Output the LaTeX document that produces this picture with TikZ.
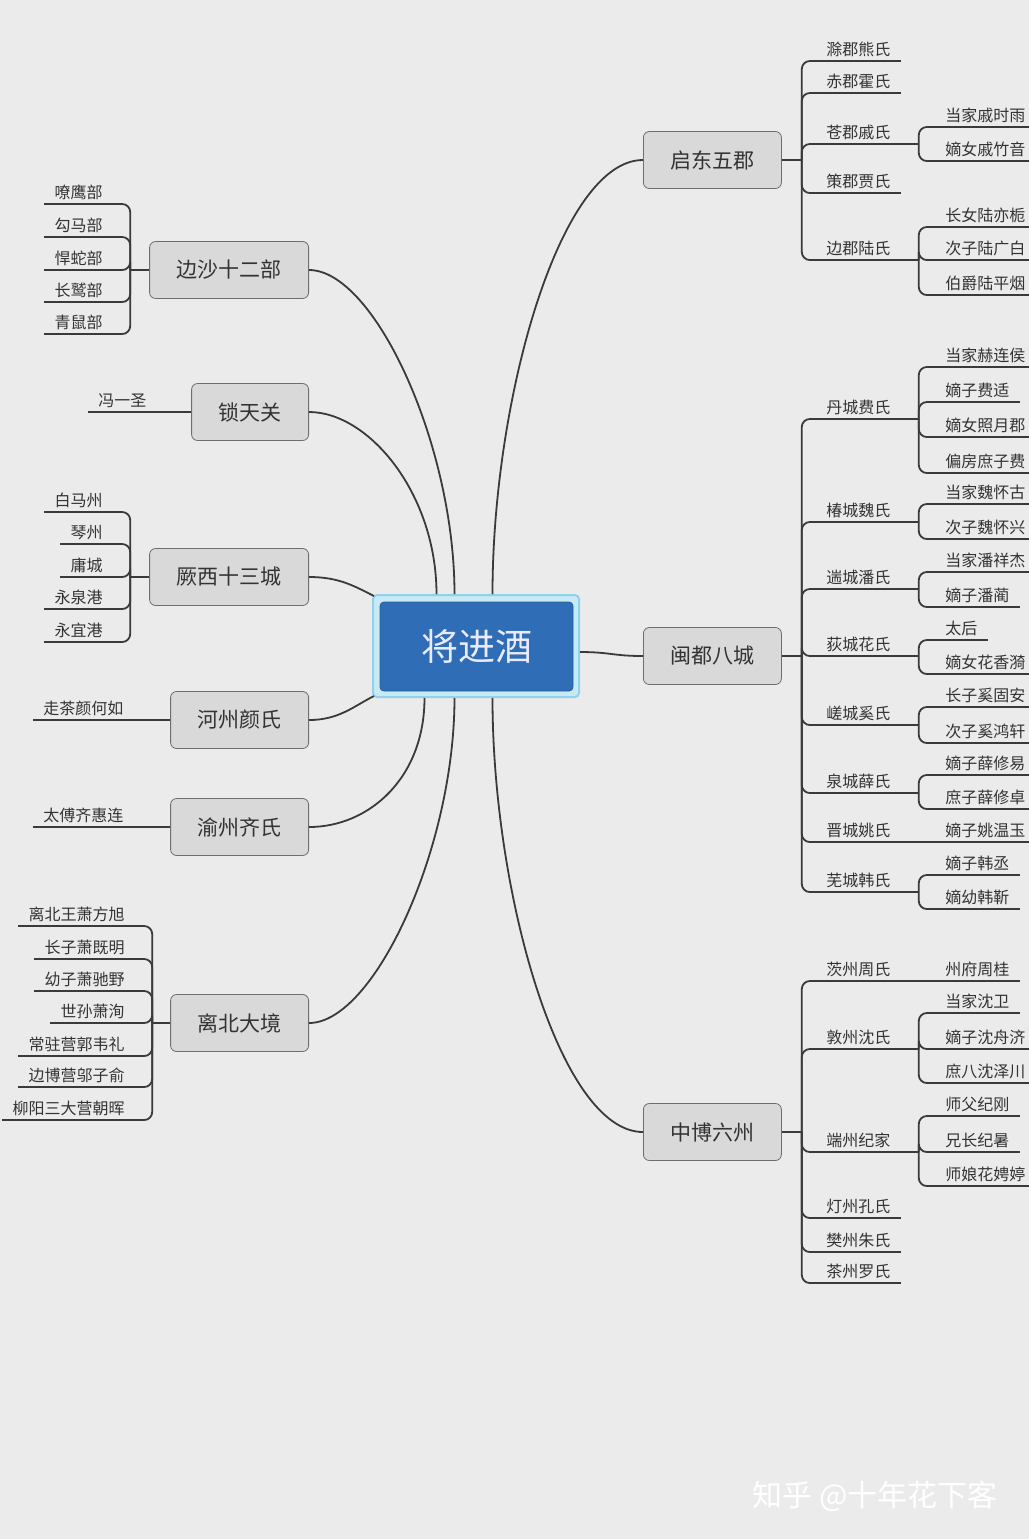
\documentclass[tikz,border=0pt]{standalone}
\usepackage{fontspec}
\setmainfont{Noto Sans CJK SC}
\usetikzlibrary{positioning}
\definecolor{bggray}{HTML}{EBEBEB}
\definecolor{linegray}{HTML}{3A3A3A}
\definecolor{txtgray}{HTML}{333333}
\definecolor{topicfill}{HTML}{D9D9D9}
\definecolor{topicdraw}{HTML}{6E6E6E}
\definecolor{rootblue}{HTML}{2F6EB6}
\definecolor{rootframe}{HTML}{8FD2EA}
\definecolor{rootgap}{HTML}{C8EAF5}

\begin{document}
\begin{tikzpicture}[x=0.5pt, y=-0.5pt,
        root/.style={rectangle, rounded corners=2pt, fill=rootblue, draw=rootblue!85!black, minimum width=96.5pt, minimum height=44.5pt, text=white!92!blue, font=\fontsize{18.5}{20}\selectfont},
        rootframe/.style={rectangle, rounded corners=2pt, fill=rootgap, draw=rootframe, line width=1pt, minimum width=103pt, minimum height=51pt},
        topic/.style={rectangle, rounded corners=3pt, draw=topicdraw, fill=topicfill, minimum height=28.5pt, inner xsep=13.5pt, text=txtgray, font=\fontsize{10.5}{12}\selectfont},
        leaf/.style={inner xsep=5pt, inner ysep=2pt, text=txtgray, font=\fontsize{8}{9}\selectfont},
        branch/.style={draw=linegray, line width=0.9pt},
        bracket/.style={branch, rounded corners=4pt}
    ]
        \useasboundingbox (0,0) rectangle (1029,1539);
        \fill[bggray] (0,0) rectangle (1029,1539);

        \node[rootframe] (jjjf) at (476,646) {};
        \node[root] (jjj) at (476.5,646.5) {将进酒};

        \node[topic, anchor=west] (qd) at (643,160) {启东五郡};
        \node[topic, anchor=west] (md) at (643,656) {闽都八城};
        \node[topic, anchor=west] (zb) at (643,1132) {中博六州};
        \node[topic, anchor=east] (bs) at (309,270) {边沙十二部};
        \node[topic, anchor=east] (st) at (309,412) {锁天关};
        \node[topic, anchor=east] (jx) at (309,577) {厥西十三城};
        \node[topic, anchor=east] (hz) at (309,720) {河州颜氏};
        \node[topic, anchor=east] (yz) at (309,827) {渝州齐氏};
        \node[topic, anchor=east] (lb) at (309,1023) {离北大境};

        \draw[branch] ([xshift=8.25pt]jjjf.north) .. controls +(0,-195) and +(-83,0) .. (qd.west);
        \draw[branch] ([yshift=-3pt]jjjf.east) .. controls +(30,0) and +(-30,0) .. (md.west);
        \draw[branch] ([xshift=8.25pt]jjjf.south) .. controls +(0,195) and +(-83,0) .. (zb.west);
        \draw[branch] ([xshift=-10.75pt]jjjf.north) .. controls +(0,-150) and +(65,0) .. (bs.east);
        \draw[branch] ([xshift=-19.75pt]jjjf.north) .. controls +(0,-100) and +(60,0) .. (st.east);
        \draw[branch] ([shift={(1pt,-1pt)}]jjjf.north west) .. controls +(-20,-10) and +(30,0) .. (jx.east);
        \draw[branch] ([shift={(1pt,1pt)}]jjjf.south west) .. controls +(-20,10) and +(30,0) .. (hz.east);
        \draw[branch] ([xshift=-25.75pt]jjjf.south) .. controls +(0,80) and +(60,0) .. (yz.east);
        \draw[branch] ([xshift=-10.75pt]jjjf.south) .. controls +(0,150) and +(65,0) .. (lb.east);

        % 启东五郡
        \coordinate[right=10pt of qd] (qdJ);
        \draw[branch] (qd.east) -- (qdJ);
        \node[leaf, anchor=south west] (qd1) at (816,61) {滁郡熊氏};
        \node[leaf, anchor=south west] (qd2) at (816,93) {赤郡霍氏};
        \node[leaf, anchor=south west] (qd3) at (816,144) {苍郡戚氏};
        \node[leaf, anchor=south west] (qd4) at (816,193) {策郡贾氏};
        \node[leaf, anchor=south west] (qd5) at (816,260) {边郡陆氏};
        \draw[bracket] (qdJ) |- (qd1.south east);
        \draw[bracket] (qdJ) |- (qd2.south east);
        \draw[bracket] (qdJ) |- (qd3.south east);
        \draw[bracket] (qdJ) |- (qd4.south east);
        \draw[bracket] (qdJ) |- (qd5.south east);

        \coordinate[right=9pt of qd3.south east] (qd3J);
        \draw[branch] (qd3.south east) -- (qd3J);
        \node[leaf, anchor=south west] (qd3a) at (935,127) {当家戚时雨};
        \node[leaf, anchor=south west] (qd3b) at (935,161) {嫡女戚竹音};
        \draw[bracket] (qd3J) |- (qd3a.south east);
        \draw[bracket] (qd3J) |- (qd3b.south east);

        \coordinate[right=9pt of qd5.south east] (qd5J);
        \draw[branch] (qd5.south east) -- (qd5J);
        \node[leaf, anchor=south west] (qd5a) at (935,227) {长女陆亦栀};
        \node[leaf, anchor=south west] (qd5b) at (935,260) {次子陆广白};
        \node[leaf, anchor=south west] (qd5c) at (935,295) {伯爵陆平烟};
        \draw[bracket] (qd5J) |- (qd5a.south east);
        \draw[bracket] (qd5J) |- (qd5b.south east);
        \draw[bracket] (qd5J) |- (qd5c.south east);

        % 闽都八城
        \coordinate[right=10pt of md] (mdJ);
        \draw[branch] (md.east) -- (mdJ);
        \node[leaf, anchor=south west] (md1) at (816,419) {丹城费氏};
        \node[leaf, anchor=south west] (md2) at (816,522) {椿城魏氏};
        \node[leaf, anchor=south west] (md3) at (816,589) {遄城潘氏};
        \node[leaf, anchor=south west] (md4) at (816,656) {荻城花氏};
        \node[leaf, anchor=south west] (md5) at (816,725) {嵯城奚氏};
        \node[leaf, anchor=south west] (md6) at (816,793) {泉城薛氏};
        \node[leaf, anchor=south west] (md7) at (816,842) {晋城姚氏};
        \node[leaf, anchor=south west] (md8) at (816,892) {芜城韩氏};
        \draw[bracket] (mdJ) |- (md1.south east);
        \draw[bracket] (mdJ) |- (md2.south east);
        \draw[bracket] (mdJ) |- (md3.south east);
        \draw[bracket] (mdJ) |- (md4.south east);
        \draw[bracket] (mdJ) |- (md5.south east);
        \draw[bracket] (mdJ) |- (md6.south east);
        \draw[bracket] (mdJ) |- (md7.south east);
        \draw[bracket] (mdJ) |- (md8.south east);

        \coordinate[right=9pt of md1.south east] (md1J);
        \draw[branch] (md1.south east) -- (md1J);
        \node[leaf, anchor=south west] (md1a) at (935,367) {当家赫连侯};
        \node[leaf, anchor=south west] (md1b) at (935,402) {嫡子费适};
        \node[leaf, anchor=south west] (md1c) at (935,437) {嫡女照月郡};
        \node[leaf, anchor=south west] (md1d) at (935,473) {偏房庶子费};
        \draw[bracket] (md1J) |- (md1a.south east);
        \draw[bracket] (md1J) |- (md1b.south east);
        \draw[bracket] (md1J) |- (md1c.south east);
        \draw[bracket] (md1J) |- (md1d.south east);

        \coordinate[right=9pt of md2.south east] (md2J);
        \draw[branch] (md2.south east) -- (md2J);
        \node[leaf, anchor=south west] (md2a) at (935,504) {当家魏怀古};
        \node[leaf, anchor=south west] (md2b) at (935,539) {次子魏怀兴};
        \draw[bracket] (md2J) |- (md2a.south east);
        \draw[bracket] (md2J) |- (md2b.south east);

        \coordinate[right=9pt of md3.south east] (md3J);
        \draw[branch] (md3.south east) -- (md3J);
        \node[leaf, anchor=south west] (md3a) at (935,572) {当家潘祥杰};
        \node[leaf, anchor=south west] (md3b) at (935,607) {嫡子潘蔺};
        \draw[bracket] (md3J) |- (md3a.south east);
        \draw[bracket] (md3J) |- (md3b.south east);

        \coordinate[right=9pt of md4.south east] (md4J);
        \draw[branch] (md4.south east) -- (md4J);
        \node[leaf, anchor=south west] (md4a) at (935,640) {太后};
        \node[leaf, anchor=south west] (md4b) at (935,674) {嫡女花香漪};
        \draw[bracket] (md4J) |- (md4a.south east);
        \draw[bracket] (md4J) |- (md4b.south east);

        \coordinate[right=9pt of md5.south east] (md5J);
        \draw[branch] (md5.south east) -- (md5J);
        \node[leaf, anchor=south west] (md5a) at (935,707) {长子奚固安};
        \node[leaf, anchor=south west] (md5b) at (935,743) {次子奚鸿轩};
        \draw[bracket] (md5J) |- (md5a.south east);
        \draw[bracket] (md5J) |- (md5b.south east);

        \coordinate[right=9pt of md6.south east] (md6J);
        \draw[branch] (md6.south east) -- (md6J);
        \node[leaf, anchor=south west] (md6a) at (935,775) {嫡子薛修易};
        \node[leaf, anchor=south west] (md6b) at (935,809) {庶子薛修卓};
        \draw[bracket] (md6J) |- (md6a.south east);
        \draw[bracket] (md6J) |- (md6b.south east);

        \node[leaf, anchor=south west] (md7a) at (935,842) {嫡子姚温玉};
        \draw[branch] (md7.south east) -- (md7a.south east);

        \coordinate[right=9pt of md8.south east] (md8J);
        \draw[branch] (md8.south east) -- (md8J);
        \node[leaf, anchor=south west] (md8a) at (935,875) {嫡子韩丞};
        \node[leaf, anchor=south west] (md8b) at (935,909) {嫡幼韩靳};
        \draw[bracket] (md8J) |- (md8a.south east);
        \draw[bracket] (md8J) |- (md8b.south east);

        % 中博六州
        \coordinate[right=10pt of zb] (zbJ);
        \draw[branch] (zb.east) -- (zbJ);
        \node[leaf, anchor=south west] (zb1) at (816,981) {茨州周氏};
        \node[leaf, anchor=south west] (zb2) at (816,1049) {敦州沈氏};
        \node[leaf, anchor=south west] (zb3) at (816,1152) {端州纪家};
        \node[leaf, anchor=south west] (zb4) at (816,1218) {灯州孔氏};
        \node[leaf, anchor=south west] (zb5) at (816,1252) {樊州朱氏};
        \node[leaf, anchor=south west] (zb6) at (816,1283) {茶州罗氏};
        \draw[bracket] (zbJ) |- (zb1.south east);
        \draw[bracket] (zbJ) |- (zb2.south east);
        \draw[bracket] (zbJ) |- (zb3.south east);
        \draw[bracket] (zbJ) |- (zb4.south east);
        \draw[bracket] (zbJ) |- (zb5.south east);
        \draw[bracket] (zbJ) |- (zb6.south east);

        \node[leaf, anchor=south west] (zb1a) at (935,981) {州府周桂};
        \draw[branch] (zb1.south east) -- (zb1a.south east);

        \coordinate[right=9pt of zb2.south east] (zb2J);
        \draw[branch] (zb2.south east) -- (zb2J);
        \node[leaf, anchor=south west] (zb2a) at (935,1013) {当家沈卫};
        \node[leaf, anchor=south west] (zb2b) at (935,1049) {嫡子沈舟济};
        \node[leaf, anchor=south west] (zb2c) at (935,1083) {庶八沈泽川};
        \draw[bracket] (zb2J) |- (zb2a.south east);
        \draw[bracket] (zb2J) |- (zb2b.south east);
        \draw[bracket] (zb2J) |- (zb2c.south east);

        \coordinate[right=9pt of zb3.south east] (zb3J);
        \draw[branch] (zb3.south east) -- (zb3J);
        \node[leaf, anchor=south west] (zb3a) at (935,1116) {师父纪刚};
        \node[leaf, anchor=south west] (zb3b) at (935,1152) {兄长纪暑};
        \node[leaf, anchor=south west] (zb3c) at (935,1186) {师娘花娉婷};
        \draw[bracket] (zb3J) |- (zb3a.south east);
        \draw[bracket] (zb3J) |- (zb3b.south east);
        \draw[bracket] (zb3J) |- (zb3c.south east);

        % 边沙十二部
        \coordinate[left=9.5pt of bs] (bsJ);
        \draw[branch] (bs.west) -- (bsJ);
        \node[leaf, anchor=south east] (bs1) at (113,204) {嘹鹰部};
        \node[leaf, anchor=south east] (bs2) at (113,237) {勾马部};
        \node[leaf, anchor=south east] (bs3) at (113,270) {悍蛇部};
        \node[leaf, anchor=south east] (bs4) at (113,302) {长鹫部};
        \node[leaf, anchor=south east] (bs5) at (113,334) {青鼠部};
        \draw[bracket] (bsJ) |- (bs1.south west);
        \draw[bracket] (bsJ) |- (bs2.south west);
        \draw[bracket] (bsJ) |- (bs3.south west);
        \draw[bracket] (bsJ) |- (bs4.south west);
        \draw[bracket] (bsJ) |- (bs5.south west);

        % 锁天关
        \node[leaf, anchor=south west] (st1) at (88,412) {冯一圣};
        \draw[branch] (st.west) -- (st1.south west);

        % 厥西十三城
        \coordinate[left=9.5pt of jx] (jxJ);
        \draw[branch] (jx.west) -- (jxJ);
        \node[leaf, anchor=south east] (jx1) at (113,512) {白马州};
        \node[leaf, anchor=south east] (jx2) at (113,544) {琴州};
        \node[leaf, anchor=south east] (jx3) at (113,577) {庸城};
        \node[leaf, anchor=south east] (jx4) at (113,609) {永泉港};
        \node[leaf, anchor=south east] (jx5) at (113,642) {永宜港};
        \draw[bracket] (jxJ) |- (jx1.south west);
        \draw[bracket] (jxJ) |- (jx2.south west);
        \draw[bracket] (jxJ) |- (jx3.south west);
        \draw[bracket] (jxJ) |- (jx4.south west);
        \draw[bracket] (jxJ) |- (jx5.south west);

        % 河州颜氏, 渝州齐氏
        \node[leaf, anchor=south west] (hz1) at (33,720) {走茶颜何如};
        \draw[branch] (hz.west) -- (hz1.south west);
        \node[leaf, anchor=south west] (yz1) at (33,827) {太傅齐惠连};
        \draw[branch] (yz.west) -- (yz1.south west);

        % 离北大境
        \coordinate[left=9pt of lb] (lbJ);
        \draw[branch] (lb.west) -- (lbJ);
        \node[leaf, anchor=south east] (lb1) at (135,926) {离北王萧方旭};
        \node[leaf, anchor=south east] (lb2) at (135,959) {长子萧既明};
        \node[leaf, anchor=south east] (lb3) at (135,991) {幼子萧驰野};
        \node[leaf, anchor=south east] (lb4) at (135,1023) {世孙萧洵};
        \node[leaf, anchor=south east] (lb5) at (135,1056) {常驻营郭韦礼};
        \node[leaf, anchor=south east] (lb6) at (135,1087) {边博营邬子俞};
        \node[leaf, anchor=south east] (lb7) at (135,1120) {柳阳三大营朝晖};
        \draw[bracket] (lbJ) |- (lb1.south west);
        \draw[bracket] (lbJ) |- (lb2.south west);
        \draw[bracket] (lbJ) |- (lb3.south west);
        \draw[bracket] (lbJ) |- (lb4.south west);
        \draw[bracket] (lbJ) |- (lb5.south west);
        \draw[bracket] (lbJ) |- (lb6.south west);
        \draw[bracket] (lbJ) |- (lb7.south west);

        \node[text=white, font=\fontsize{15}{17}\selectfont] (wm) at (875,1496) {知乎 @十年花下客};
    \end{tikzpicture}
\end{document}
